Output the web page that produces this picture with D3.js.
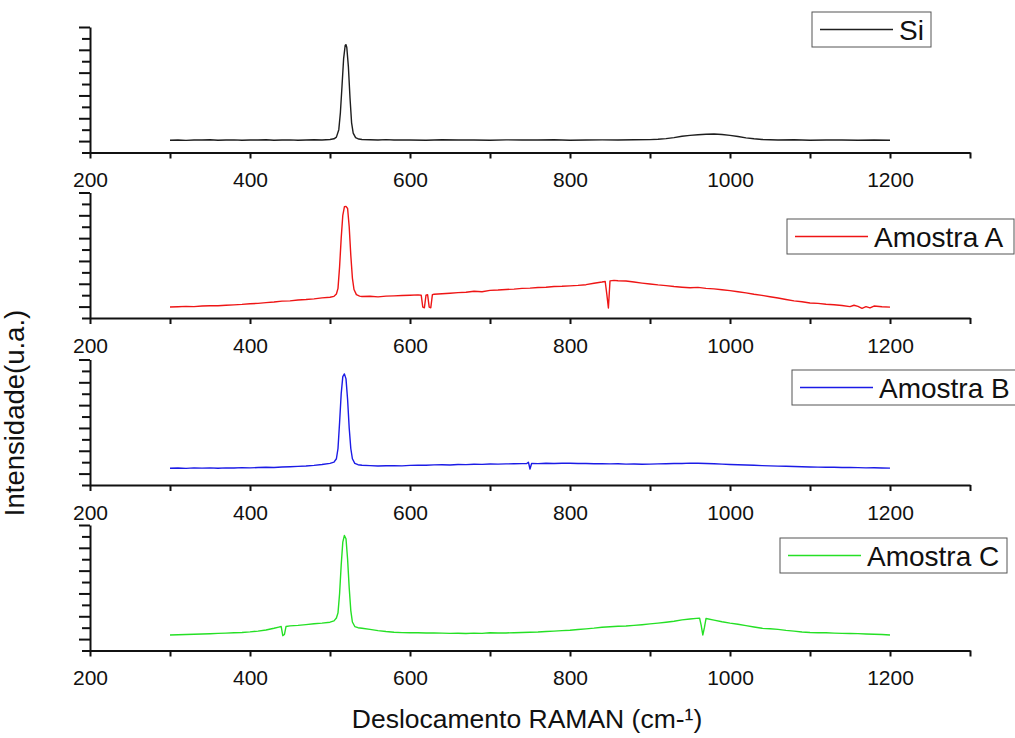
<!DOCTYPE HTML>
<html>
  <head>
    <title>Raman</title>
    <style>
      body { margin: 0; background: #fff; }
      svg text { font-family: "Liberation Sans", Arial, sans-serif; fill: #111; }
    </style>
  </head>
  <body>
    <svg width="1015" height="738"></svg>
    <script src="https://cdn.jsdelivr.net/npm/d3@7"></script>
    <script>
      // series names and tick values
      var seriesNames = ['Si', 'Amostra A', 'Amostra B', 'Amostra C'];
      var seriesColors = ['#1e1e1e', '#ee1515', '#1b1be6', '#25e025'];
      var xTicks = [200, 300, 400, 500, 600, 700, 800, 900, 1000, 1100, 1200, 1300];
      var xTickLabels = [200, 400, 600, 800, 1000, 1200];
      var yTicks = [0, 1, 2, 3, 4, 5, 6, 7, 8, 9, 10, 11];

      // [shift (cm-1), intensity (a.u.)]
      var siData = [[300,1.08],[310,1.1],[320,1.06],[330,1.1],[340,1.09],[350,1.12],[360,1.08],[370,1.1],[380,1.11],[390,1.07],
        [400,1.1],[410,1.09],[420,1.12],[430,1.08],[440,1.1],[450,1.11],[460,1.08],[470,1.1],[480,1.12],[490,1.1],[500,1.14],
        [505,1.2],[508,1.35],[511,2.0],[513,3.5],[515,5.8],[517,8.2],[519,9.4],[520,9.45],[521,9.2],[523,7.5],[525,4.8],[527,2.6],
        [529,1.7],[532,1.3],[536,1.18],[540,1.14],[550,1.12],[560,1.1],[570,1.13],[580,1.09],[590,1.11],[600,1.1],[620,1.08],
        [640,1.12],[660,1.09],[680,1.1],[700,1.07],[720,1.11],[740,1.09],[760,1.1],[780,1.12],[800,1.08],[820,1.1],[840,1.11],
        [860,1.09],[880,1.12],[900,1.13],[910,1.16],[920,1.22],[930,1.3],[940,1.42],[950,1.5],[960,1.56],[970,1.6],[980,1.62],
        [990,1.58],[1000,1.5],[1010,1.4],[1020,1.28],[1030,1.2],[1040,1.14],[1060,1.1],[1080,1.12],[1100,1.08],[1120,1.1],
        [1140,1.09],[1160,1.07],[1180,1.1],[1200,1.08]];

      var amostraA = [[300,0.97],[310,0.99],[320,1.02],[330,1.0],[340,1.05],[350,1.08],[360,1.07],[370,1.12],[380,1.15],[390,1.19],
        [400,1.25],[410,1.28],[420,1.35],[430,1.4],[440,1.48],[450,1.5],[460,1.58],[470,1.62],[480,1.68],[490,1.76],[500,1.82],
        [505,1.9],[508,2.1],[510,2.6],[512,4.5],[514,7.0],[516,9.0],[518,9.75],[520,9.78],[522,9.6],[524,8.0],[526,5.5],[528,3.5],
        [530,2.5],[533,2.05],[537,1.92],[540,1.88],[550,1.9],[560,1.85],[570,1.92],[580,1.94],[590,1.97],[600,2.0],[610,2.03],
        [614,2.0],[616,0.95],[618,0.9],[620,2.0],[622,2.05],[624,0.95],[626,0.9],[628,2.05],[630,2.08],[640,2.12],[650,2.17],
        [660,2.22],[670,2.26],[680,2.35],[690,2.3],[700,2.42],[710,2.45],[720,2.5],[730,2.53],[740,2.6],[750,2.62],[760,2.67],
        [770,2.7],[780,2.76],[790,2.78],[800,2.82],[810,2.86],[820,2.92],[830,3.05],[840,3.15],[844,3.2],[846,2.1],[848,0.88],
        [850,3.25],[855,3.3],[860,3.27],[870,3.24],[880,3.15],[890,3.06],[900,2.98],[910,2.9],[920,2.84],[930,2.76],[940,2.7],
        [950,2.65],[960,2.68],[970,2.6],[980,2.55],[990,2.48],[1000,2.4],[1010,2.3],[1020,2.2],[1030,2.08],[1040,1.98],
        [1050,1.86],[1060,1.75],[1070,1.62],[1080,1.5],[1090,1.42],[1100,1.32],[1110,1.28],[1120,1.2],[1130,1.16],[1140,1.1],
        [1150,1.0],[1155,1.12],[1160,1.02],[1165,0.85],[1170,1.0],[1175,0.88],[1180,1.05],[1190,0.98],[1200,0.95]];

      var amostraB = [[300,1.47],[310,1.49],[320,1.46],[330,1.5],[340,1.48],[350,1.5],[360,1.47],[370,1.5],[380,1.49],[390,1.52],
        [400,1.5],[410,1.53],[420,1.55],[430,1.54],[440,1.58],[450,1.6],[460,1.63],[470,1.66],[480,1.72],[490,1.8],[500,1.9],
        [505,2.0],[508,2.3],[510,3.2],[512,5.5],[514,8.0],[516,9.5],[518,9.74],[520,9.3],[522,7.5],[524,5.0],[526,3.2],[528,2.3],
        [531,1.9],[535,1.78],[540,1.73],[550,1.7],[560,1.67],[570,1.69],[580,1.7],[590,1.68],[600,1.72],[610,1.74],[620,1.73],
        [630,1.76],[640,1.77],[650,1.75],[660,1.8],[670,1.79],[680,1.82],[690,1.81],[700,1.84],[710,1.83],[720,1.85],[730,1.86],
        [740,1.87],[746,1.88],[748,2.0],[750,1.4],[752,1.88],[760,1.87],[770,1.9],[780,1.89],[790,1.91],[800,1.9],[810,1.88],
        [820,1.89],[830,1.86],[840,1.87],[850,1.85],[860,1.86],[870,1.83],[880,1.84],[890,1.82],[900,1.83],[910,1.85],[920,1.86],
        [930,1.88],[940,1.89],[950,1.92],[960,1.9],[970,1.88],[980,1.86],[990,1.83],[1000,1.8],[1010,1.78],[1020,1.75],
        [1030,1.73],[1040,1.7],[1050,1.68],[1060,1.65],[1070,1.64],[1080,1.62],[1090,1.6],[1100,1.58],[1110,1.57],[1120,1.55],
        [1130,1.55],[1140,1.53],[1150,1.54],[1160,1.52],[1170,1.5],[1180,1.51],[1190,1.49],[1200,1.48]];

      var amostraC = [[300,1.36],[310,1.38],[320,1.4],[330,1.42],[340,1.45],[350,1.47],[360,1.5],[370,1.52],[380,1.55],[390,1.58],
        [400,1.63],[410,1.7],[420,1.8],[430,1.95],[436,2.05],[439,2.1],[441,1.3],[443,1.4],[445,2.1],[450,2.16],[460,2.2],
        [470,2.27],[480,2.34],[490,2.4],[500,2.48],[505,2.6],[508,2.85],[510,3.3],[512,5.0],[514,7.5],[516,9.5],[518,10.08],
        [520,9.8],[522,8.0],[524,5.5],[526,3.5],[528,2.5],[531,2.1],[535,2.0],[540,1.95],[550,1.85],[560,1.74],[570,1.66],
        [580,1.6],[590,1.57],[600,1.55],[610,1.56],[620,1.54],[630,1.53],[640,1.52],[650,1.5],[660,1.51],[670,1.49],[680,1.52],
        [690,1.5],[700,1.55],[710,1.53],[720,1.54],[730,1.56],[740,1.58],[750,1.6],[760,1.62],[770,1.66],[780,1.7],[790,1.74],
        [800,1.78],[810,1.84],[820,1.9],[830,1.96],[840,2.04],[850,2.08],[860,2.12],[870,2.15],[880,2.2],[890,2.26],[900,2.33],
        [910,2.4],[920,2.48],[930,2.56],[940,2.68],[950,2.76],[958,2.82],[962,2.83],[964,2.2],[966,1.36],[968,2.0],[970,2.8],
        [980,2.66],[990,2.52],[1000,2.4],[1010,2.3],[1020,2.18],[1030,2.06],[1040,1.95],[1050,1.9],[1060,1.85],[1070,1.76],
        [1080,1.7],[1090,1.62],[1100,1.58],[1110,1.56],[1120,1.55],[1130,1.52],[1140,1.5],[1150,1.49],[1160,1.48],[1170,1.45],
        [1180,1.42],[1190,1.4],[1200,1.36]];

      var allSeries = [siData, amostraA, amostraB, amostraC];

      // layout
      var axisY = [152.5, 318, 485, 650.5];
      var panelH = 125.5;
      var legendBox = [
        { x: 812, y: 12, w: 119 },
        { x: 787, y: 219, w: 227 },
        { x: 792, y: 370, w: 230 },
        { x: 780, y: 538, w: 227 }
      ];

      var svg = d3.select('svg');
      svg.append('rect').attr('width', 1015).attr('height', 738).attr('fill', '#fff');

      var xScale = d3.scaleLinear().domain([200, 1300]).range([90, 970]);

      allSeries.forEach(function(series, i) {
        var yScale = d3.scaleLinear().domain([0, 11]).range([axisY[i], axisY[i] - panelH]);
        var g = svg.append('g');

        // curve
        var line = d3.line()
          .x(function(d) { return xScale(d[0]); })
          .y(function(d) { return yScale(d[1]); });

        g.append('path')
          .datum(series)
          .attr('d', line)
          .attr('fill', 'none')
          .attr('stroke', seriesColors[i])
          .attr('stroke-width', 1.4)
          .attr('stroke-linejoin', 'round');

        // x axis
        var xAxis = d3.axisBottom(xScale)
          .tickValues(xTicks)
          .tickSize(6)
          .tickSizeOuter(0)
          .tickPadding(14)
          .tickFormat(function(d) { return xTickLabels.indexOf(d) >= 0 ? d : ''; });

        var gx = g.append('g')
          .attr('transform', 'translate(0,' + axisY[i] + ')')
          .call(xAxis);
        gx.select('.domain').attr('stroke', '#111').attr('stroke-width', 2);
        gx.selectAll('.tick line').attr('stroke', '#111').attr('stroke-width', 2);
        gx.selectAll('.tick text')
          .style('font-size', '21px')
          .style('font-family', '"Liberation Sans", Arial, sans-serif')
          .attr('fill', '#111');

        // y axis, no labels
        var yAxis = d3.axisLeft(yScale)
          .tickValues(yTicks)
          .tickSizeOuter(0)
          .tickFormat('');

        var gy = g.append('g')
          .attr('transform', 'translate(90,0)')
          .call(yAxis);
        gy.select('.domain').attr('stroke', '#111').attr('stroke-width', 2);
        gy.selectAll('.tick line')
          .attr('stroke', '#111')
          .attr('stroke-width', 2)
          .attr('x2', function(d) { return d % 2 ? -11 : -8; });

        // legend
        var lb = legendBox[i];
        var leg = g.append('g').attr('transform', 'translate(' + lb.x + ',' + lb.y + ')');
        leg.append('rect')
          .attr('width', lb.w)
          .attr('height', 35)
          .attr('fill', '#fff')
          .attr('stroke', '#555')
          .attr('stroke-width', 1);
        leg.append('line')
          .attr('x1', 8).attr('x2', 81)
          .attr('y1', 17.5).attr('y2', 17.5)
          .attr('stroke', seriesColors[i])
          .attr('stroke-width', 1.5);
        leg.append('text')
          .attr('x', 87)
          .attr('y', 27.5)
          .style('font-size', '28px')
          .text(seriesNames[i]);
      });

      // axis titles
      svg.append('text')
        .attr('x', 527)
        .attr('y', 728)
        .attr('text-anchor', 'middle')
        .style('font-size', '26.5px')
        .text('Deslocamento RAMAN (cm-\u00b9)');

      svg.append('text')
        .attr('transform', 'translate(24,413) rotate(-90)')
        .attr('text-anchor', 'middle')
        .style('font-size', '27.5px')
        .text('Intensidade(u.a.)');
    </script>
  </body>
</html>
